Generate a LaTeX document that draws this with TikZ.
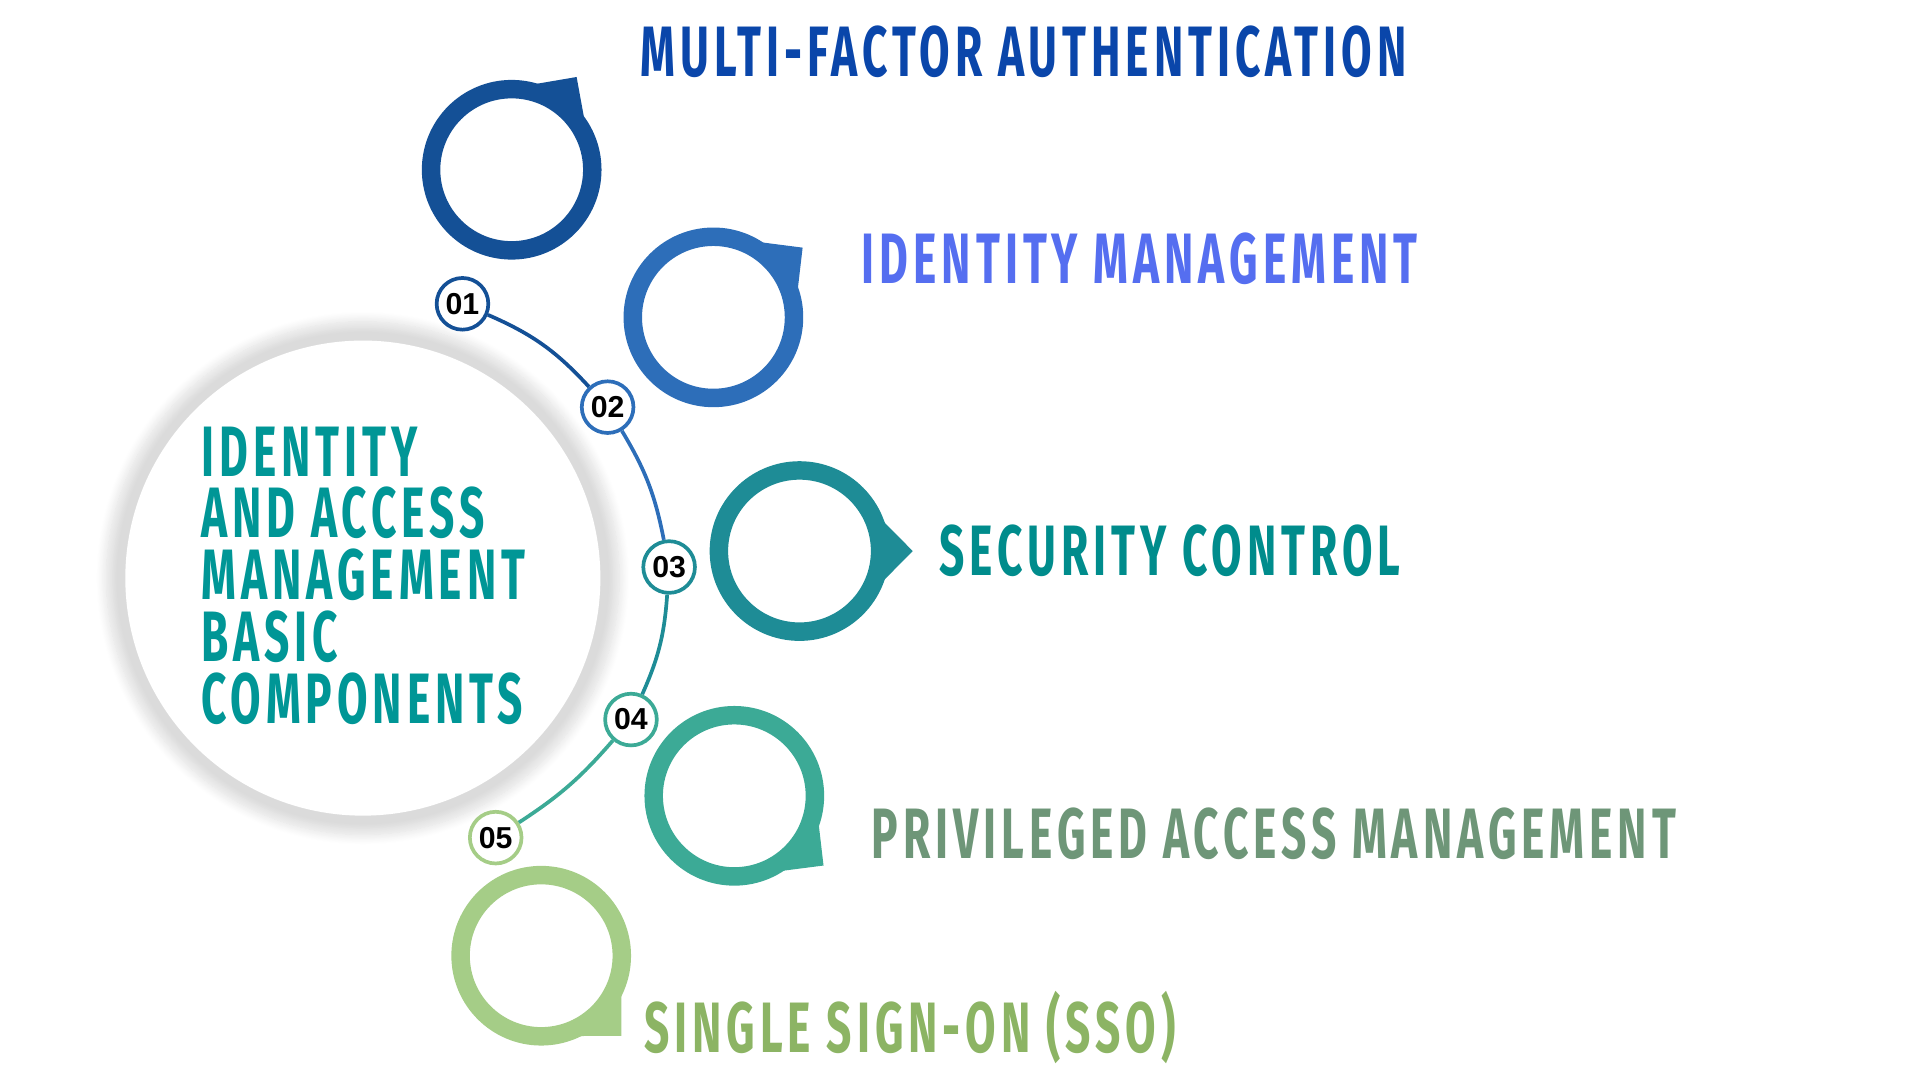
\documentclass[tikz,border=0pt]{standalone}
\usepackage{fontspec}
\setmainfont{Liberation Sans}
\newfontfamily\iamfont[FakeStretch=0.62, LetterSpace=7]{Fira Sans Bold}
\usetikzlibrary{positioning}
\usetikzlibrary{calc}
\usetikzlibrary{shadows.blur}

\definecolor{cA}{RGB}{20,80,150}
\definecolor{cB}{RGB}{45,110,185}
\definecolor{cC}{RGB}{30,140,150}
\definecolor{cD}{RGB}{60,170,150}
\definecolor{cE}{RGB}{165,205,135}
\definecolor{tA}{RGB}{10,70,170}
\definecolor{tB}{RGB}{85,110,240}
\definecolor{tC}{RGB}{0,140,140}
\definecolor{tD}{RGB}{110,150,120}
\definecolor{tE}{RGB}{140,180,100}
\definecolor{hub}{RGB}{0,150,150}

\begin{document}
\begin{tikzpicture}[
    x=0.01cm, y=-0.01cm,
    ring/.style={circle, draw=#1, line width=0.15cm, fill=white, minimum size=1.31cm, inner sep=0pt},
    num/.style={circle, draw=#1, line width=0.03cm, fill=white, minimum size=0.42cm, inner sep=0pt, font=\bfseries\fontsize{7}{7}\selectfont},
    caption/.style={anchor=west, text=#1, inner sep=0pt, font=\iamfont\fontsize{16.5}{16.5}\selectfont},
]
    \useasboundingbox (0,0) rectangle (1561,878);

    \node[circle, fill=white, minimum size=3.86cm, blur shadow={shadow xshift=0pt, shadow yshift=0pt, shadow scale=1.08, shadow blur steps=16, shadow opacity=14}] (hub) at (295,470) {};
    \node[anchor=west, align=left, text=hub, inner sep=0pt, font=\iamfont\fontsize{16.5}{14.3}\selectfont] (title) at (163,468) {IDENTITY\\AND ACCESS\\MANAGEMENT\\BASIC\\COMPONENTS};

    % rings with tails
    \foreach \n/\x/\y/\c/\a in {1/416/138/cA/55, 2/580/258/cB/38, 3/650/448/cC/0, 4/597/647/cD/-38, 5/440/777/cE/-45} {
        \fill[\c] ($(\x,\y)+(\a+20:0.72cm)$) -- ($(\x,\y)+(\a:0.92cm)$) -- ($(\x,\y)+(\a-20:0.72cm)$) -- cycle;
        \node[ring=\c] (R\n) at (\x,\y) {};
    }

    % numbered steps
    \node[num=cA] (N1) at (376,247) {01};
    \node[num=cB] (N2) at (494,331) {02};
    \node[num=cC] (N3) at (544,461) {03};
    \node[num=cD] (N4) at (513,585) {04};
    \node[num=cE] (N5) at (403,681) {05};

    \draw[cA, line width=0.03cm] (N1) to[bend left=12] (N2);
    \draw[cB, line width=0.03cm] (N2) to[bend left=10] (N3);
    \draw[cC, line width=0.03cm] (N3) to[bend left=10] (N4);
    \draw[cD, line width=0.03cm] (N4) to[bend left=8] (N5);

    \node[caption=tA] (L1) at (520,42) {MULTI-FACTOR AUTHENTICATION};
    \node[caption=tB] (L2) at (700,210) {IDENTITY MANAGEMENT};
    \node[caption=tC] (L3) at (763,448) {SECURITY CONTROL};
    \node[caption=tD] (L4) at (708,678) {PRIVILEGED ACCESS MANAGEMENT};
    \node[caption=tE] (L5) at (523,835) {SINGLE SIGN-ON (SSO)};
\end{tikzpicture}
\end{document}
